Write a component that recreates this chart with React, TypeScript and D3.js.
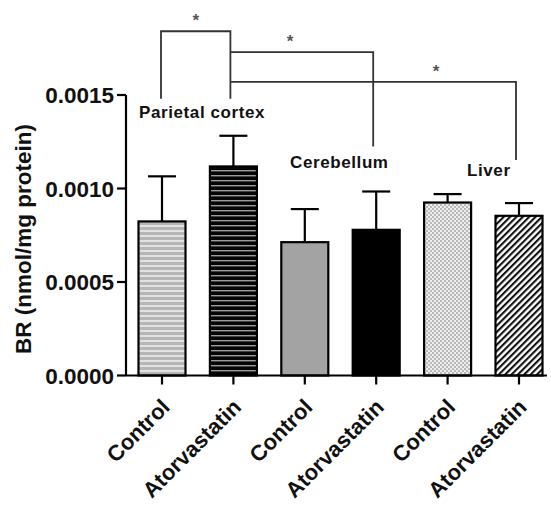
import React from "react";
import * as d3 from "d3";

const categories = ["Control", "Atorvastatin", "Control", "Atorvastatin", "Control", "Atorvastatin"];
const means = [0.000824, 0.001118, 0.000713, 0.000779, 0.000925, 0.000854];
const errors = [0.000241, 0.000164, 0.000177, 0.000205, 0.000045, 0.000068];
const yTicks = [0, 0.0005, 0.001, 0.0015];
const tissueLabels = ["Parietal cortex", "Cerebellum", "Liver"];
// significance brackets: [fromIndex, toIndex, level, leftBottom, rightBottom]
const bracketFrom = [0, 1, 1];
const bracketTo = [1, 3, 5];
const bracketLevel = [0.001841, 0.001729, 0.001570];
const bracketLeftBottom = [0.001480, 0.001729, 0.001570];
const bracketRightBottom = [0.001480, 0.001224, 0.001152];

const W = 551;
const H = 505;
const FONT = "'Liberation Sans', Arial, Helvetica, sans-serif";

export default function App() {
  const y = d3.scaleLinear().domain([0, 0.0015]).range([375.5, 95]);
  const x = d3.scalePoint<number>().domain(d3.range(categories.length)).range([162, 519]);
  const barW = 47;
  const fills = ["url(#p1)", "url(#p2)", "#a3a3a3", "#000", "url(#p5)", "url(#p6)"];
  const axisX0 = 126;

  return (
    <svg width={W} height={H} style={{ position: "absolute", left: 0, top: 0, background: "#fff" }} fontFamily={FONT}>
      <defs>
        <pattern id="p1" width={6} height={5} patternUnits="userSpaceOnUse">
          <rect width={6} height={5} fill="#b6b6b6" />
          <rect y={0} width={6} height={2} fill="#e2e2e2" />
        </pattern>
        <pattern id="p2" width={6} height={5} patternUnits="userSpaceOnUse">
          <rect width={6} height={5} fill="#050505" />
          <rect y={0} width={6} height={1.4} fill="#9c9c9c" />
        </pattern>
        <pattern id="p5" width={4} height={4} patternUnits="userSpaceOnUse">
          <rect width={4} height={4} fill="#eeeeee" />
          <rect x={0} y={0} width={2} height={2} fill="#b9b9b9" />
          <rect x={2} y={2} width={2} height={2} fill="#b9b9b9" />
        </pattern>
        <pattern id="p6" width={4.5} height={4.5} patternUnits="userSpaceOnUse" patternTransform="rotate(45)">
          <rect width={4.5} height={4.5} fill="#fff" />
          <rect x={0} y={0} width={2.1} height={4.5} fill="#111" />
        </pattern>
      </defs>

      {/* bars */}
      {means.map((m, i) => (
        <rect key={"b" + i} x={x(i)! - barW / 2} y={y(m)} width={barW} height={y(0) - y(m)}
          fill={fills[i]} stroke="#000" strokeWidth={2.2} />
      ))}
      {/* error bars */}
      {means.map((m, i) => (
        <g key={"e" + i} stroke="#000" strokeWidth={2.2}>
          <line x1={x(i)!} x2={x(i)!} y1={y(m)} y2={y(m + errors[i])} />
          <line x1={x(i)! - 14} x2={x(i)! + 14} y1={y(m + errors[i])} y2={y(m + errors[i])} />
        </g>
      ))}

      {/* y axis */}
      <line x1={axisX0} x2={axisX0} y1={y(0.0015)} y2={y(0)} stroke="#000" strokeWidth={2.2} />
      {yTicks.map((t) => (
        <g key={"yt" + t}>
          <line x1={axisX0 - 9} x2={axisX0} y1={y(t)} y2={y(t)} stroke="#000" strokeWidth={2.2} />
          <text x={axisX0 - 12} y={y(t)} dy="0.36em" textAnchor="end" fontSize={22.5} fontWeight="bold" fill="#111">
            {d3.format(".4f")(t)}
          </text>
        </g>
      ))}
      <text transform={`translate(31, 239) rotate(-90)`} textAnchor="middle"
        fontSize={22.5} fontWeight="bold" fill="#111">BR (nmol/mg protein)</text>

      {/* x axis */}
      <line x1={axisX0} x2={547} y1={y(0)} y2={y(0)} stroke="#000" strokeWidth={2.2} />
      {categories.map((c, i) => (
        <g key={"xt" + i}>
          <line x1={x(i)!} x2={x(i)!} y1={y(0)} y2={y(0) + 9} stroke="#000" strokeWidth={2.2} />
          <text transform={`translate(${x(i)! + 9}, ${y(0) + 33}) rotate(-45)`} textAnchor="end"
            fontSize={22} fontWeight="bold" fill="#111">{c}</text>
        </g>
      ))}

      {/* tissue labels */}
      <text x={139} y={118} fontSize={17} letterSpacing={0.6} fontWeight="bold" fill="#111">{tissueLabels[0]}</text>
      <text x={290} y={168} fontSize={17} letterSpacing={0.6} fontWeight="bold" fill="#111">{tissueLabels[1]}</text>
      <text x={467} y={176} fontSize={17} letterSpacing={0.6} fontWeight="bold" fill="#111">{tissueLabels[2]}</text>

      {/* significance brackets */}
      {bracketFrom.map((f, k) => {
        const x1 = x(f)! - (k === 0 ? 1 : 3);
        const x2 = x(bracketTo[k])! - 3;
        return (
          <g key={"br" + k}>
            <path d={`M${x1},${y(bracketLeftBottom[k])}V${y(bracketLevel[k])}H${x2}V${y(bracketRightBottom[k])}`}
              fill="none" stroke="#333" strokeWidth={1.8} />
            <text x={k === 0 ? (x1 + x2) / 2 : k === 1 ? 290 : 436} y={y(bracketLevel[k]) - 5} textAnchor="middle"
              fontSize={17} fontWeight="bold" fill="#555">*</text>
          </g>
        );
      })}
    </svg>
  );
}
